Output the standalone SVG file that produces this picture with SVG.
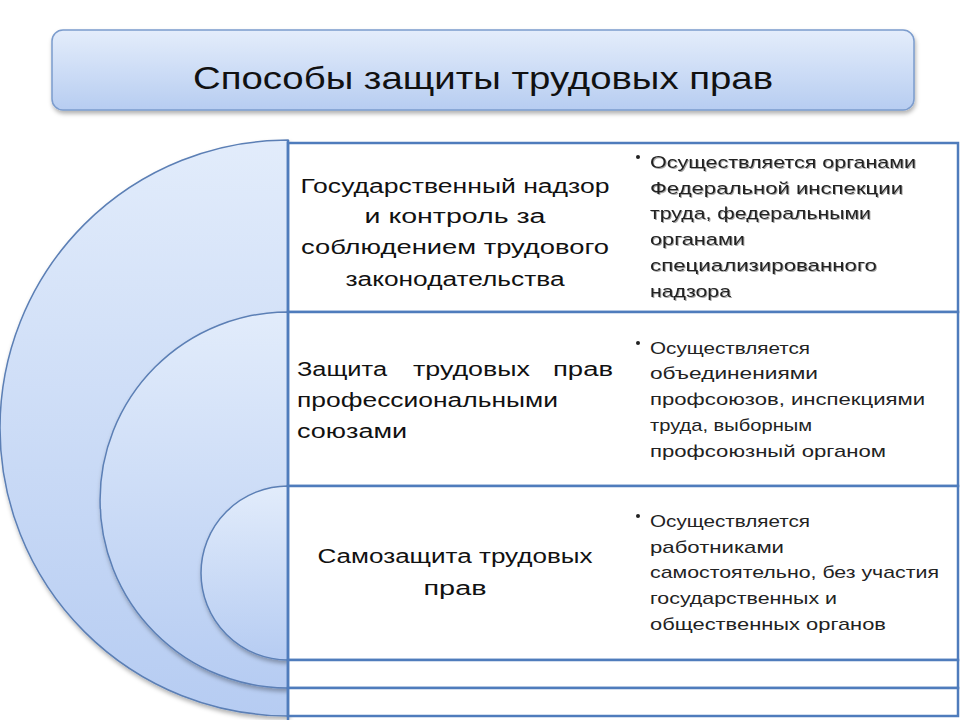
<svg xmlns="http://www.w3.org/2000/svg" width="960" height="720" viewBox="0 0 960 720">
  <defs>
    <linearGradient id="gTitle" x1="0" y1="0" x2="0" y2="1">
      <stop offset="0" stop-color="#e4edfb"/>
      <stop offset="1" stop-color="#b7cdf1"/>
    </linearGradient>
    <linearGradient id="gArc" x1="0" y1="0" x2="0" y2="1">
      <stop offset="0" stop-color="#e2ecfb"/>
      <stop offset="1" stop-color="#b6ccf2"/>
    </linearGradient>
    <filter id="sh" x="-10%" y="-10%" width="120%" height="130%">
      <feDropShadow dx="1" dy="3" stdDeviation="2" flood-color="#000" flood-opacity="0.3"/>
    </filter>
    <filter id="tsh" x="-5%" y="-20%" width="110%" height="140%">
      <feDropShadow dx="1" dy="1" stdDeviation="0.6" flood-color="#000" flood-opacity="0.35"/>
    </filter>
    <style>
      .arc { fill: url(#gArc); stroke: #5b7fb5; stroke-width: 1.5; }
      .row { fill: #ffffff; stroke: #4f7cbc; stroke-width: 2.5; }
      .lt { font-family: "Liberation Sans", Arial, sans-serif; font-size: 20px; fill: #111; }
      .rt { font-family: "Liberation Sans", Arial, sans-serif; font-size: 17px; fill: #222; }
      .ttl { font-family: "Liberation Sans", Arial, sans-serif; font-size: 32px; fill: #111; }
      .dot { fill: #222; }
    </style>
  </defs>

  <rect width="960" height="720" fill="#ffffff"/>

  <g id="title">
    <rect x="52" y="30" width="862" height="80" rx="11" fill="url(#gTitle)" stroke="#7b9ccd" stroke-width="1.5" filter="url(#sh)"/>
    <text class="ttl" x="483" y="89" text-anchor="middle" textLength="580" lengthAdjust="spacingAndGlyphs">Способы защиты трудовых прав</text>
  </g>

  <g id="arcs">
    <path class="arc" d="M288,140 A288,288 0 0 0 288,716 Z" filter="url(#sh)"/>
    <path class="arc" d="M288,312 A188,188 0 0 0 288,688 Z" filter="url(#sh)"/>
    <path class="arc" d="M288,486 A87,87 0 0 0 288,660 Z" filter="url(#sh)"/>
  </g>

  <g id="rows">
    <rect class="row" x="288" y="143" width="670" height="169"/>
    <rect class="row" x="288" y="312" width="670" height="174"/>
    <rect class="row" x="288" y="486" width="670" height="174"/>
    <rect class="row" x="288" y="660" width="670" height="28"/>
    <rect class="row" x="288" y="688" width="670" height="28"/>
    <line x1="288" y1="140" x2="288" y2="720" stroke="#4f7cbc" stroke-width="2.5"/>
  </g>

  <g id="node-state">
    <text class="lt" x="455" y="193" text-anchor="middle" textLength="309" lengthAdjust="spacingAndGlyphs">Государственный надзор</text>
    <text class="lt" x="455" y="223" text-anchor="middle" textLength="181" lengthAdjust="spacingAndGlyphs">и контроль за</text>
    <text class="lt" x="455" y="254" text-anchor="middle" textLength="308" lengthAdjust="spacingAndGlyphs">соблюдением трудового</text>
    <text class="lt" x="455" y="286" text-anchor="middle" textLength="219" lengthAdjust="spacingAndGlyphs">законодательства</text>
    <circle class="dot" cx="638" cy="157" r="2"/>
    <g filter="url(#tsh)">
      <text class="rt" x="650" y="168" textLength="266" lengthAdjust="spacingAndGlyphs">Осуществляется органами</text>
      <text class="rt" x="650" y="194" textLength="253" lengthAdjust="spacingAndGlyphs">Федеральной инспекции</text>
      <text class="rt" x="650" y="219" textLength="221" lengthAdjust="spacingAndGlyphs">труда, федеральными</text>
      <text class="rt" x="650" y="245" textLength="95" lengthAdjust="spacingAndGlyphs">органами</text>
      <text class="rt" x="650" y="271" textLength="227" lengthAdjust="spacingAndGlyphs">специализированного</text>
      <text class="rt" x="650" y="297" textLength="81" lengthAdjust="spacingAndGlyphs">надзора</text>
    </g>
  </g>

  <g id="node-unions">
    <text class="lt" x="297" y="376" textLength="90" lengthAdjust="spacingAndGlyphs">Защита</text>
    <text class="lt" x="413" y="376" textLength="117" lengthAdjust="spacingAndGlyphs">трудовых</text>
    <text class="lt" x="553" y="376" textLength="60" lengthAdjust="spacingAndGlyphs">прав</text>
    <text class="lt" x="297" y="407" textLength="261" lengthAdjust="spacingAndGlyphs">профессиональными</text>
    <text class="lt" x="297" y="438" textLength="110" lengthAdjust="spacingAndGlyphs">союзами</text>
    <circle class="dot" cx="638" cy="343" r="2"/>
    <text class="rt" x="650" y="354" textLength="160" lengthAdjust="spacingAndGlyphs">Осуществляется</text>
    <text class="rt" x="650" y="379" textLength="168" lengthAdjust="spacingAndGlyphs">объединениями</text>
    <text class="rt" x="650" y="405" textLength="275" lengthAdjust="spacingAndGlyphs">профсоюзов, инспекциями</text>
    <text class="rt" x="650" y="431" textLength="162" lengthAdjust="spacingAndGlyphs">труда, выборным</text>
    <text class="rt" x="650" y="457" textLength="236" lengthAdjust="spacingAndGlyphs">профсоюзный органом</text>
  </g>

  <g id="node-self">
    <text class="lt" x="455" y="563" text-anchor="middle" textLength="275" lengthAdjust="spacingAndGlyphs">Самозащита трудовых</text>
    <text class="lt" x="455" y="595" text-anchor="middle" textLength="63" lengthAdjust="spacingAndGlyphs">прав</text>
    <circle class="dot" cx="638" cy="516" r="2"/>
    <text class="rt" x="650" y="527" textLength="160" lengthAdjust="spacingAndGlyphs">Осуществляется</text>
    <text class="rt" x="650" y="553" textLength="134" lengthAdjust="spacingAndGlyphs">работниками</text>
    <text class="rt" x="650" y="578" textLength="289" lengthAdjust="spacingAndGlyphs">самостоятельно, без участия</text>
    <text class="rt" x="650" y="604" textLength="187" lengthAdjust="spacingAndGlyphs">государственных и</text>
    <text class="rt" x="650" y="630" textLength="236" lengthAdjust="spacingAndGlyphs">общественных органов</text>
  </g>
</svg>
